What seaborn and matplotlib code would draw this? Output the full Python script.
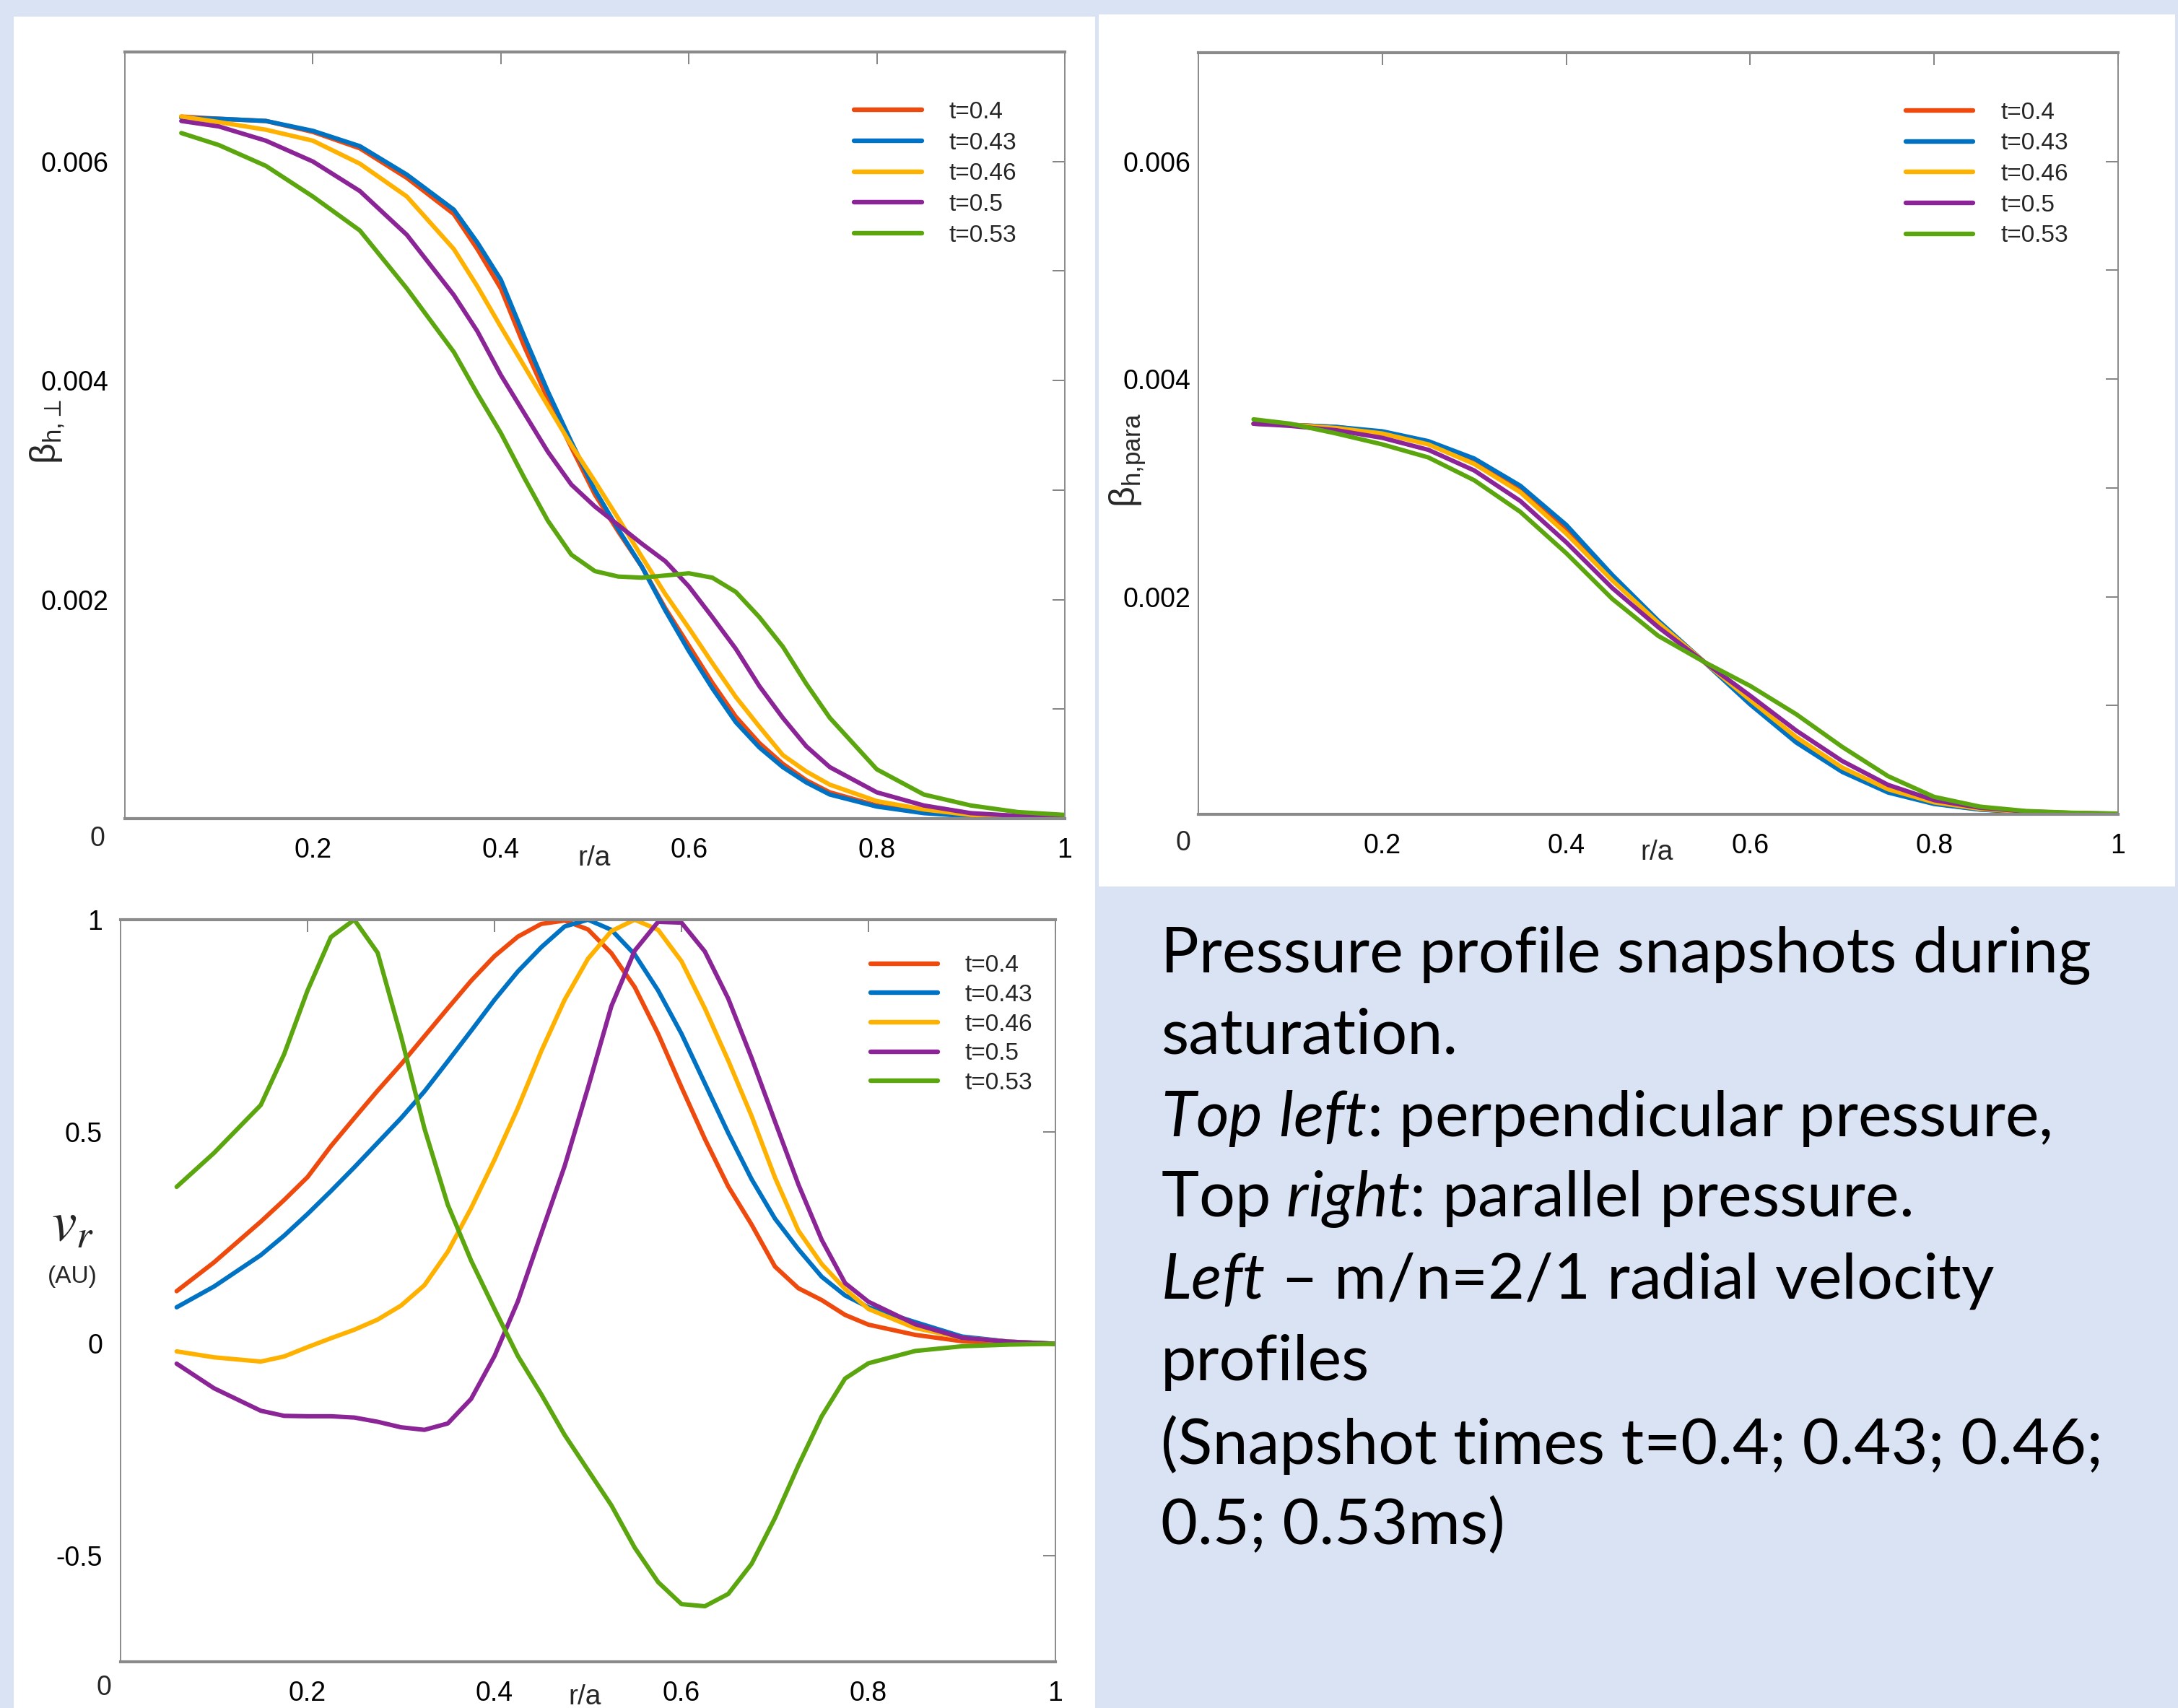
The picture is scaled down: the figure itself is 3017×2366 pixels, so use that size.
import numpy as np
import pandas as pd
import seaborn as sns
import matplotlib
matplotlib.use("Agg")
import matplotlib.pyplot as plt
from matplotlib.patches import Rectangle

# ---- data ----
labels = ['t=0.4', 't=0.43', 't=0.46', 't=0.5', 't=0.53']
colors = ['#EE4A0E', '#0072C3', '#FFB100', '#8B2496', '#5BA60E']

# radial grid of the perpendicular pressure panel
r_perp = [0.06, 0.10, 0.15, 0.20, 0.25, 0.30, 0.35, 0.375, 0.40, 0.425,
          0.45, 0.475, 0.50, 0.525, 0.55, 0.575, 0.60, 0.625, 0.65, 0.675,
          0.70, 0.725, 0.75, 0.80, 0.85, 0.90, 0.95, 1.00]

# perpendicular hot particle beta (units of 1e-3)
perp_040 = [6.41, 6.39, 6.37, 6.27, 6.12, 5.85, 5.52, 5.20, 4.84, 4.31,
            3.83, 3.39, 2.96, 2.62, 2.30, 1.92, 1.58, 1.24, 0.93, 0.69,
            0.50, 0.35, 0.24, 0.12, 0.055, 0.025, 0.013, 0.004]
perp_043 = [6.40, 6.39, 6.37, 6.28, 6.14, 5.88, 5.56, 5.26, 4.92, 4.40,
            3.90, 3.44, 3.00, 2.64, 2.30, 1.90, 1.53, 1.19, 0.88, 0.65,
            0.47, 0.33, 0.22, 0.11, 0.05, 0.022, 0.011, 0.004]
perp_046 = [6.41, 6.36, 6.29, 6.19, 5.98, 5.68, 5.20, 4.86, 4.49, 4.13,
            3.77, 3.41, 3.08, 2.74, 2.39, 2.05, 1.74, 1.42, 1.11, 0.84,
            0.58, 0.43, 0.31, 0.16, 0.084, 0.034, 0.017, 0.004]
perp_050 = [6.37, 6.32, 6.19, 6.00, 5.73, 5.33, 4.78, 4.45, 4.05, 3.70,
            3.35, 3.05, 2.85, 2.68, 2.51, 2.35, 2.12, 1.84, 1.55, 1.21,
            0.92, 0.66, 0.47, 0.24, 0.12, 0.05, 0.025, 0.008]
perp_053 = [6.26, 6.15, 5.96, 5.68, 5.37, 4.84, 4.26, 3.88, 3.52, 3.11,
            2.72, 2.41, 2.26, 2.21, 2.20, 2.22, 2.24, 2.20, 2.07, 1.84,
            1.57, 1.23, 0.92, 0.45, 0.22, 0.12, 0.06, 0.034]

# radial grid of the parallel pressure panel
r_para = [0.06, 0.10, 0.15, 0.20, 0.25, 0.30, 0.35, 0.40, 0.45, 0.50,
          0.55, 0.60, 0.65, 0.70, 0.75, 0.80, 0.85, 0.90, 0.95, 1.00]

# parallel hot particle beta (units of 1e-3)
para_040 = [3.59, 3.58, 3.56, 3.51, 3.42, 3.25, 3.00, 2.63, 2.18, 1.77,
            1.40, 1.03, 0.68, 0.40, 0.21, 0.10, 0.045, 0.02, 0.009, 0.004]
para_043 = [3.59, 3.58, 3.56, 3.52, 3.43, 3.27, 3.02, 2.66, 2.20, 1.78,
            1.40, 1.01, 0.66, 0.39, 0.20, 0.095, 0.043, 0.02, 0.009, 0.004]
para_046 = [3.59, 3.58, 3.55, 3.50, 3.40, 3.22, 2.96, 2.58, 2.15, 1.76,
            1.40, 1.05, 0.71, 0.43, 0.23, 0.11, 0.05, 0.022, 0.01, 0.004]
para_050 = [3.59, 3.57, 3.53, 3.46, 3.35, 3.16, 2.88, 2.50, 2.08, 1.72,
            1.40, 1.09, 0.77, 0.49, 0.27, 0.13, 0.06, 0.026, 0.012, 0.005]
para_053 = [3.63, 3.59, 3.50, 3.40, 3.28, 3.07, 2.78, 2.40, 1.98, 1.64,
            1.40, 1.18, 0.92, 0.62, 0.35, 0.16, 0.07, 0.03, 0.014, 0.006]

# radial grid of the velocity panel
r_vel = [0.06, 0.10, 0.15, 0.175, 0.20, 0.225, 0.25, 0.275, 0.30, 0.325,
         0.35, 0.375, 0.40, 0.425, 0.45, 0.475, 0.50, 0.525, 0.55, 0.575,
         0.60, 0.625, 0.65, 0.675, 0.70, 0.725, 0.75, 0.775, 0.80, 0.85,
         0.90, 0.95, 1.00]

# m/n=2/1 radial velocity (arbitrary units)
vr_040 = [0.124, 0.192, 0.288, 0.339, 0.393, 0.466, 0.532, 0.597, 0.659, 0.725,
          0.791, 0.856, 0.914, 0.960, 0.990, 0.998, 0.977, 0.921, 0.841, 0.731,
          0.605, 0.483, 0.371, 0.281, 0.182, 0.131, 0.103, 0.068, 0.045, 0.021,
          0.006, 0.001, 0.0]
vr_043 = [0.086, 0.135, 0.209, 0.255, 0.306, 0.360, 0.416, 0.474, 0.532, 0.595,
          0.666, 0.738, 0.811, 0.878, 0.935, 0.984, 1.0, 0.976, 0.918, 0.833,
          0.731, 0.614, 0.497, 0.388, 0.295, 0.223, 0.158, 0.114, 0.086, 0.051,
          0.017, 0.005, 0.0]
vr_046 = [-0.018, -0.032, -0.042, -0.030, -0.008, 0.013, 0.033, 0.057, 0.090, 0.138,
          0.217, 0.320, 0.434, 0.556, 0.690, 0.811, 0.908, 0.973, 1.0, 0.976,
          0.902, 0.791, 0.668, 0.537, 0.392, 0.267, 0.188, 0.129, 0.082, 0.037,
          0.014, 0.005, 0.0]
vr_050 = [-0.047, -0.105, -0.158, -0.170, -0.171, -0.171, -0.174, -0.184, -0.197, -0.203,
          -0.188, -0.130, -0.029, 0.100, 0.260, 0.419, 0.604, 0.796, 0.927, 0.995,
          0.993, 0.925, 0.814, 0.674, 0.524, 0.376, 0.245, 0.143, 0.099, 0.046,
          0.014, 0.005, 0.0]
vr_053 = [0.370, 0.450, 0.563, 0.683, 0.833, 0.959, 1.0, 0.922, 0.725, 0.508,
          0.328, 0.196, 0.082, -0.029, -0.119, -0.215, -0.298, -0.381, -0.481, -0.562,
          -0.614, -0.619, -0.590, -0.519, -0.411, -0.287, -0.171, -0.082, -0.046, -0.017,
          -0.006, -0.002, 0.0]


def long_frame(r, series, scale=1.0):
    parts = []
    for lab, vals in zip(labels, series):
        parts.append(pd.DataFrame({'r': r, 'v': np.array(vals) * scale, 't': lab}))
    return pd.concat(parts, ignore_index=True)


df_perp = long_frame(r_perp, [perp_040, perp_043, perp_046, perp_050, perp_053], 1e-3)
df_para = long_frame(r_para, [para_040, para_043, para_046, para_050, para_053], 1e-3)
df_vel = long_frame(r_vel, [vr_040, vr_043, vr_046, vr_050, vr_053])

# ---- style ----
sns.set_theme(style='white')
plt.rcParams['font.family'] = ['Liberation Sans', 'DejaVu Sans']
plt.rcParams['axes.unicode_minus'] = False
plt.rcParams['mathtext.fontset'] = 'custom'
plt.rcParams['mathtext.rm'] = 'Lato'
plt.rcParams['mathtext.it'] = 'Lato:italic'
plt.rcParams['mathtext.fallback'] = 'stixsans'

W, H = 3017, 2366
BG = '#DAE3F3'
fig = plt.figure(figsize=(W / 100, H / 100), dpi=100, facecolor=BG)


def px_box(x0, y0, x1, y1):
    # pixel box (top-left origin) -> figure fraction rect
    return [x0 / W, 1 - y1 / H, (x1 - x0) / W, (y1 - y0) / H]


# white slide panels
for (x0, y0, x1, y1) in [(19, 23, 1517, 2366), (1522, 20, 3013, 1228)]:
    b = px_box(x0, y0, x1, y1)
    fig.add_artist(Rectangle((b[0], b[1]), b[2], b[3], transform=fig.transFigure,
                             facecolor='white', edgecolor='none', zorder=-5))

ax_perp = fig.add_axes(px_box(173, 72, 1475, 1134))
ax_para = fig.add_axes(px_box(1660, 73, 2934, 1128))
ax_vel = fig.add_axes(px_box(167, 1274, 1462, 2302))


def draw(ax, df):
    sns.lineplot(data=df, x='r', y='v', hue='t', hue_order=labels, palette=colors,
                 linewidth=4.4, sort=False, estimator=None, ax=ax)
    ax.set_xlabel('')
    ax.set_ylabel('')


def style(ax, ylim, yticks, yticklabels, yminor, ypad):
    ax.set_xlim(0, 1)
    ax.set_ylim(*ylim)
    ax.set_xticks([0.2, 0.4, 0.6, 0.8, 1.0])
    ax.set_xticklabels(['0.2', '0.4', '0.6', '0.8', '1'])
    ax.set_yticks(yticks)
    ax.set_yticklabels(yticklabels)
    if yminor:
        ax.set_yticks(yminor, minor=True)
    ax.tick_params(which='both', direction='in', top=True, right=True, length=12,
                   width=1.3, color='#7a7a7a', labelsize=27, labelcolor='black')
    ax.tick_params(axis='x', pad=19)
    ax.tick_params(axis='y', pad=ypad)
    ax.set_facecolor('white')
    for s in ax.spines.values():
        s.set_visible(True)
        s.set_color('#8a8a8a')
        s.set_linewidth(1.4)
    ax.spines['top'].set_linewidth(3)
    ax.spines['bottom'].set_linewidth(3)


def legend(ax, anchor, spacing):
    h, l = ax.get_legend_handles_labels()
    leg = ax.legend(h, l, loc='upper left', bbox_to_anchor=anchor, frameon=False,
                    fontsize=24, handlelength=2.8, handletextpad=1.14,
                    labelspacing=spacing, borderpad=0, borderaxespad=0)
    for line in leg.get_lines():
        line.set_linewidth(4.6)


draw(ax_perp, df_perp)
draw(ax_para, df_para)
draw(ax_vel, df_vel)

beta_ticks = [0.002, 0.004, 0.006]
beta_labels = ['0.002', '0.004', '0.006']
beta_minor = [0.001, 0.003, 0.005]
style(ax_perp, (0, 0.007), beta_ticks, beta_labels, beta_minor, 16)
style(ax_para, (0, 0.007), beta_ticks, beta_labels, beta_minor, 8)
style(ax_vel, (-0.75, 1.0), [-0.5, 0, 0.5, 1.0], ['-0.5', '0', '0.5', '1'], None, 18)

legend(ax_perp, (0.776, 0.936), 0.35)
legend(ax_para, (0.769, 0.936), 0.35)
legend(ax_vel, (0.802, 0.953), 0.29)


def ftext(x, y, s, **kw):
    return fig.text(x / W, 1 - y / H, s, **kw)


# corner zeros and axis labels
for (x, y) in [(135, 1162), (1639, 1168), (144, 2338)]:
    ftext(x, y, '0', ha='center', va='center', fontsize=27)
for (x, y) in [(823, 1189), (2295, 1181), (810, 2351)]:
    ftext(x, y, 'r/a', ha='center', va='center', fontsize=28)

ftext(66, 598, r'$\mathregular{\beta_{h{,}\perp}}$', rotation=90, ha='center', va='center',
      fontsize=36, math_fontfamily='dejavusans')
ftext(1562, 638, r'$\mathregular{\beta_{h{,}para}}$', rotation=90, ha='center', va='center',
      fontsize=36, math_fontfamily='dejavusans')
ftext(100, 1698, r'$v_r$', ha='center', va='center', fontsize=56, math_fontfamily='stix')
ftext(100, 1768, '(AU)', ha='center', va='center', fontsize=24)

# caption block
note_lines = [
    'Pressure profile snapshots during',
    'saturation.',
    r'$\mathit{Top\ left}$: perpendicular pressure,',
    r'Top $\mathit{right}$: parallel pressure.',
    r'$\mathit{Left}$ – m/n=2/1 radial velocity',
    'profiles',
    '(Snapshot times t=0.4; 0.43; 0.46;',
    '0.5; 0.53ms)',
]
note_base = [1347, 1460, 1574, 1685, 1799, 1912, 2028, 2139]

renderer = fig.canvas.get_renderer()
probe = fig.text(0, 0, note_lines[0], fontsize=50, family='Lato')
note_size = 50 * 1288 / probe.get_window_extent(renderer).width
probe.remove()

for s, yb in zip(note_lines, note_base):
    ftext(1608, yb, s, ha='left', va='baseline', fontsize=note_size, family='Lato',
          math_fontfamily='custom', color='black')

fig.savefig('out.png', dpi=100, facecolor=BG)
